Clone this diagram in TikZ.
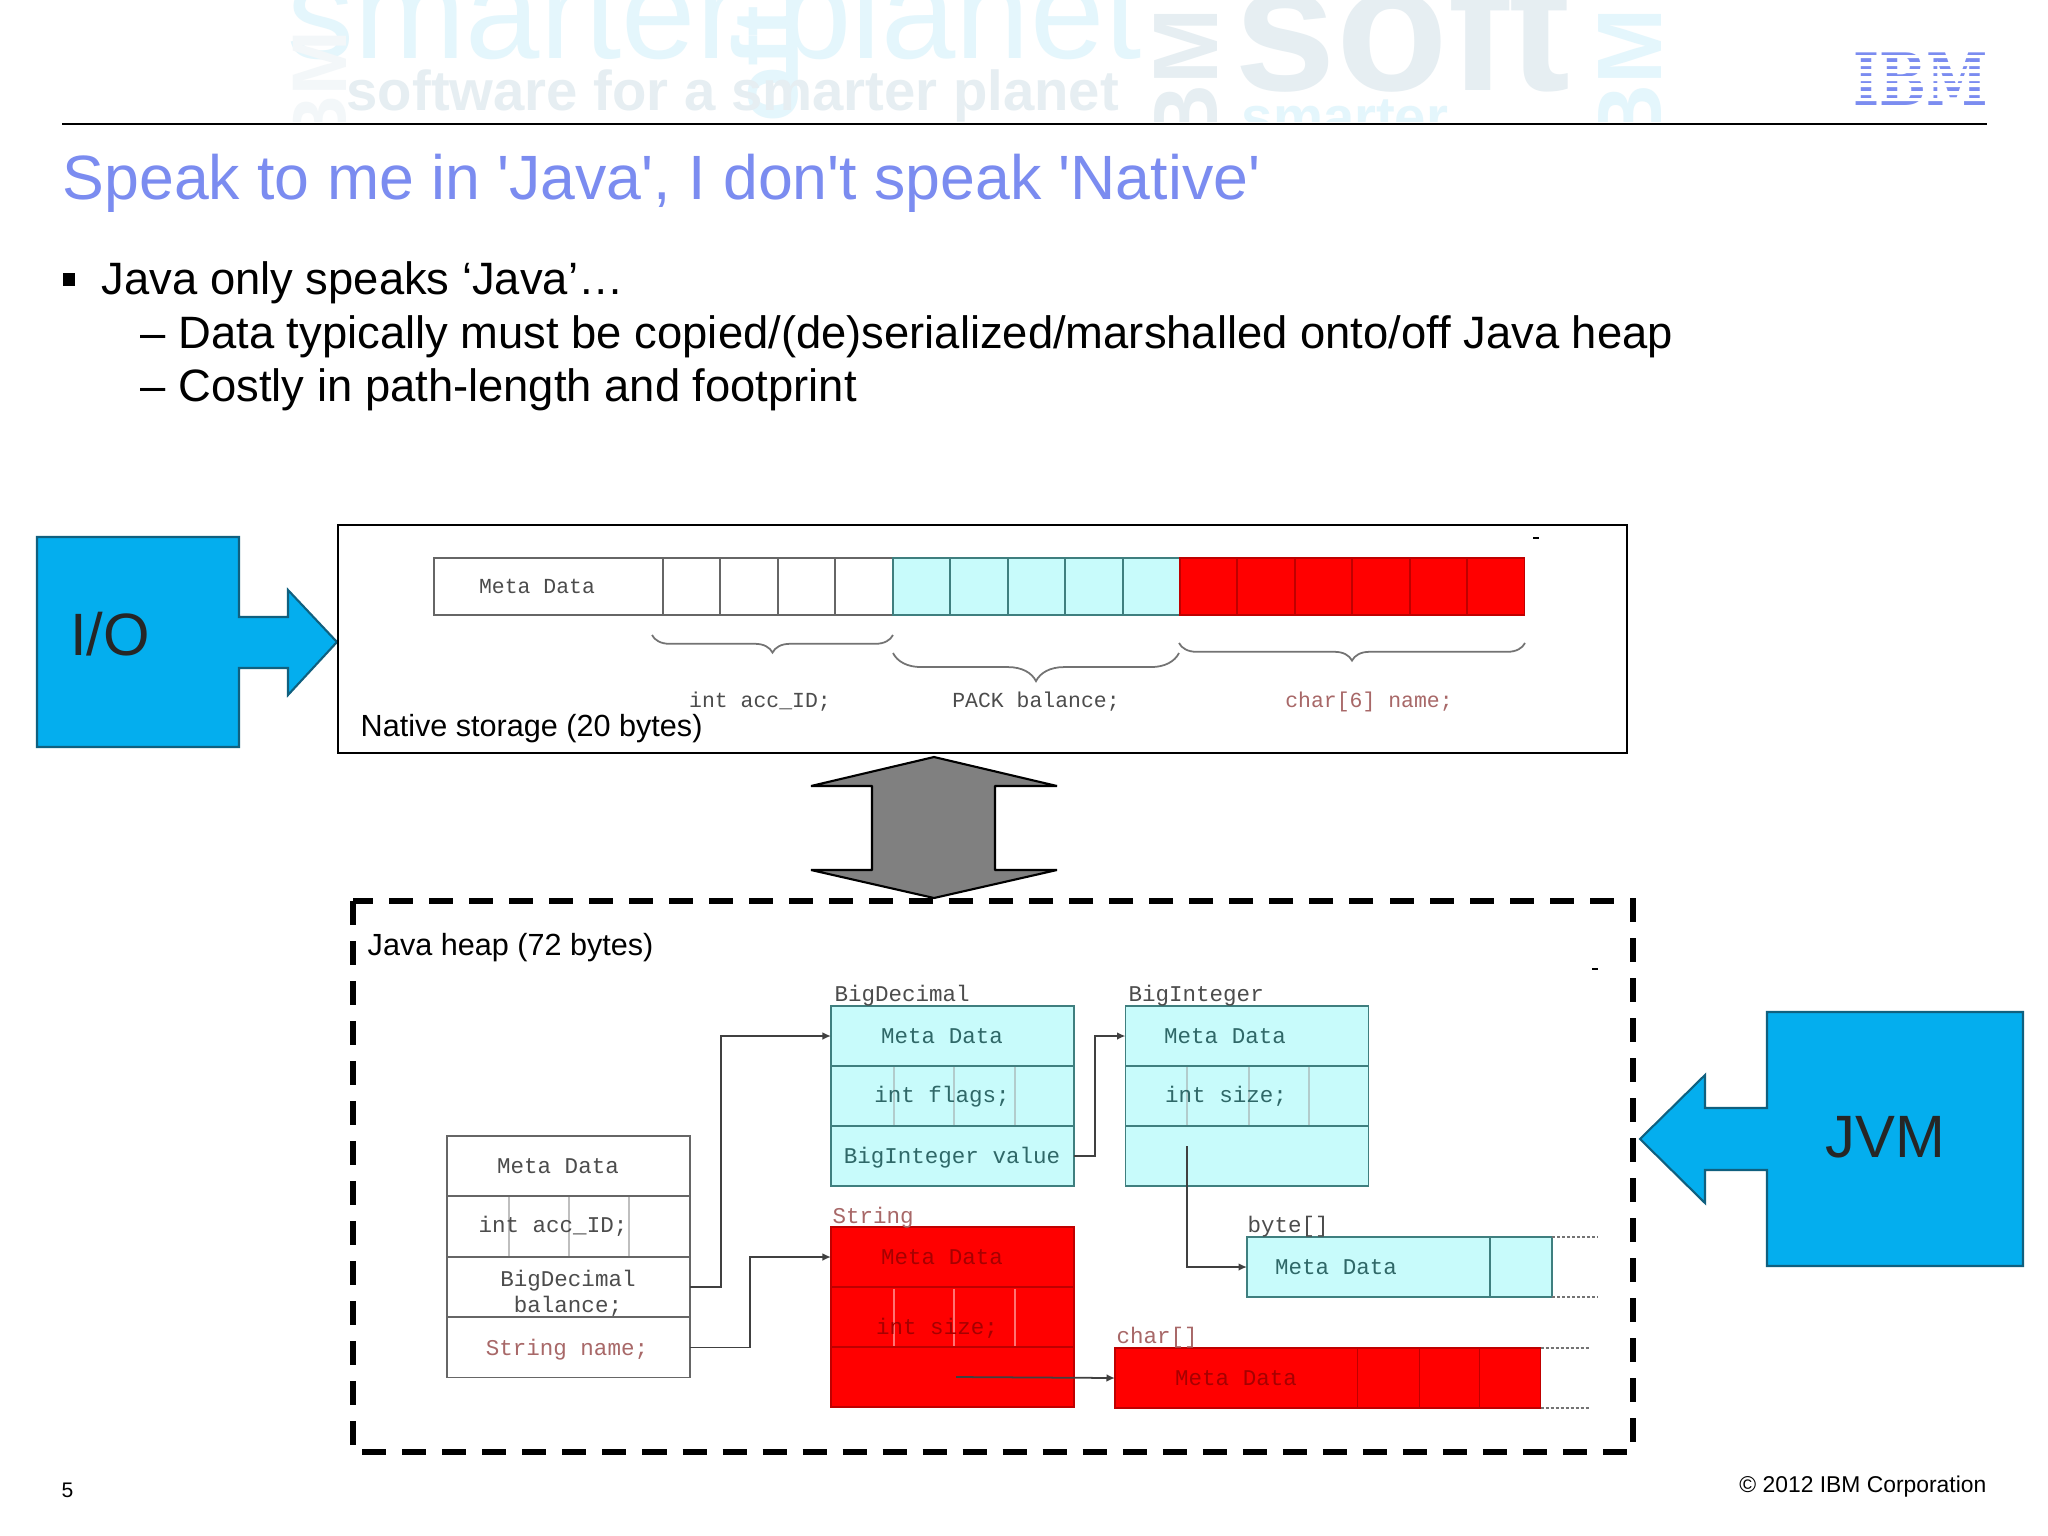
\documentclass[tikz,border=0pt]{standalone}
\usepackage{fontspec}
\setmainfont{Liberation Sans}
\setmonofont{Liberation Mono}
\newfontfamily\titlefont{Liberation Sans}
\newfontfamily\logofont{DejaVu Serif}
\usetikzlibrary{decorations.pathreplacing,arrows.meta}
\definecolor{ibmblue}{HTML}{7B8CF0}
\definecolor{bigblue}{HTML}{04AEEE}
\definecolor{bigedge}{HTML}{10607F}
\definecolor{pale}{HTML}{C8FBFB}
\definecolor{paleedge}{HTML}{3F7F7F}
\definecolor{tealtext}{HTML}{2F6868}
\definecolor{redtext}{HTML}{A86868}
\definecolor{wmcyan}{HTML}{E4F6FC}
\definecolor{wmgray}{HTML}{E6EEF2}
\tikzset{
  headtext/.style={anchor=base west,inner sep=0pt,font=\titlefont\fontsize{17.8}{20}\selectfont,text=ibmblue},
  bodytext/.style={anchor=base west,inner sep=0pt,font=\fontsize{12.9}{15}\selectfont},
  storetext/.style={inner sep=0pt,font=\fontsize{8.7}{10}\selectfont},
  bigtext/.style={inner sep=0pt,font=\fontsize{17}{20}\selectfont,text=black!85},
  bigshape/.style={fill=bigblue,draw=bigedge,line width=0.6pt},
  mono/.style={inner sep=0pt,font=\ttfamily\fontsize{6.4}{7.4}\selectfont,text=black!70},
  nativemono/.style={mono,font=\ttfamily\fontsize{6.1}{7}\selectfont},
  monoteal/.style={mono,text=tealtext},
  monored/.style={mono,text=redtext},
  monodark/.style={mono,text=red!65!black},
  plainrow/.style={draw=black!60,fill=white,line width=0.5pt,minimum width=2.43cm,minimum height=0.6cm,inner sep=0pt,outer sep=0pt},
  palerow/.style={plainrow,draw=paleedge,fill=pale},
  redrow/.style={plainrow,draw=red!75!black,fill=red},
  cell/.style={plainrow,minimum width=0.57cm,minimum height=0.57cm},
  wire/.style={draw=black!75,line width=0.5pt,-{Latex[length=2.4pt,width=2.2pt]}},
  tail/.style={draw=black!55,line width=0.8pt,dash pattern=on 0.3mm off 0.2mm},
  bracket/.style={draw=black!55,line width=0.5pt,decorate}
}
\begin{document}
\begin{tikzpicture}[x=0.01cm,y=-0.01cm]
\useasboundingbox (0,0) rectangle (2048,1536);
\fill[white] (0,0) rectangle (2048,1536);

% Draw watermark behind the header
\begin{scope}
\clip (0,0) rectangle (2048,121);
\node[inner sep=0pt,anchor=base west,text=wmcyan,font=\fontsize{38}{40}\selectfont] (wmplanet) at (287,58) {smarter planet};
\node[inner sep=0pt,anchor=east,rotate=90,text=wmcyan,font=\bfseries\fontsize{26}{28}\selectfont] (wmsoft) at (765,5) {soft};
\node[inner sep=0pt,anchor=base west,text=wmgray,font=\bfseries\fontsize{16}{18}\selectfont] (wmsoftware) at (346,110) {software for a smarter planet};
\node[inner sep=0pt,anchor=base west,text=wmgray,font=\bfseries\fontsize{52}{54}\selectfont] (wmbigsoft) at (1234,90) {soft};
\node[inner sep=0pt,anchor=base west,text=wmcyan,font=\bfseries\fontsize{16}{18}\selectfont] (wmlower) at (1241,136) {smarter};
\node[inner sep=0pt,anchor=east,rotate=90,text=wmgray,font=\bfseries\fontsize{26}{28}\selectfont] (wmibm) at (1186,8) {IBM};
\node[inner sep=0pt,anchor=east,rotate=90,text=wmcyan,font=\bfseries\fontsize{26}{28}\selectfont] (wmibmright) at (1630,8) {IBM};
\node[inner sep=0pt,anchor=east,rotate=90,text=wmgray!50,font=\bfseries\fontsize{22}{24}\selectfont] (wmibmleft) at (320,30) {IBM};
\end{scope}

% Draw header
\draw[line width=0.8pt] (62,124) -- (1987,124);
\node[inner sep=0pt,text=ibmblue,yscale=1.3,font=\logofont\bfseries\fontsize{15.8}{17}\selectfont] (logo) at (1921,79) {IBM};
\fill[white] (1850,55) rectangle (1990,58) (1850,62) rectangle (1990,66) (1850,69) rectangle (1990,73) (1850,76) rectangle (1990,81) (1850,83) rectangle (1990,87) (1850,91) rectangle (1990,95) (1850,98) rectangle (1990,101);
\node[headtext] (title) at (62,199) {Speak to me in 'Java', I don't speak 'Native'};

% Draw bullet text
\fill (63,273) rectangle (75,286);
\node[bodytext] (lineone) at (101,294) {Java only speaks ‘Java’…};
\node[bodytext] (linetwo) at (140,348) {– Data typically must be copied/(de)serialized/marshalled onto/off Java heap};
\node[bodytext] (linethree) at (140,401) {– Costly in path-length and footprint};

% Draw I/O arrow
\draw[bigshape] (37,537) -- (239,537) -- (239,617) -- (288,617) -- (288,590) -- (337,642) -- (288,695) -- (288,668) -- (239,668) -- (239,747) -- (37,747) -- cycle;
\node[bigtext] (io) at (110,634) {I/O};

% Draw native storage box
\draw[line width=0.8pt] (338,525) rectangle (1627,753);
\node[storetext,anchor=west] (nativelabel) at (360,729) {Native storage (20 bytes)};
\fill (1533,537) rectangle (1539,539);

% Draw native fields
\node[plainrow,minimum width=2.29cm,minimum height=0.57cm] (nmeta) at (548.5,586.5) {};
\node[nativemono] (nmetatext) at (537,586) {Meta Data};
\node[cell] (nid1) at (691.5,586.5) {};
\node[cell] (nid2) at (749,586.5) {};
\node[cell] (nid3) at (806.5,586.5) {};
\node[cell] (nid4) at (864,586.5) {};
\node[cell,draw=paleedge,fill=pale] (nbal1) at (921.5,586.5) {};
\node[cell,draw=paleedge,fill=pale] (nbal2) at (979,586.5) {};
\node[cell,draw=paleedge,fill=pale] (nbal3) at (1036.5,586.5) {};
\node[cell,draw=paleedge,fill=pale] (nbal4) at (1094,586.5) {};
\node[cell,draw=paleedge,fill=pale] (nbal5) at (1151.5,586.5) {};
\node[cell,draw=red!75!black,fill=red] (nname1) at (1208.5,586.5) {};
\node[cell,draw=red!75!black,fill=red] (nname2) at (1266,586.5) {};
\node[cell,draw=red!75!black,fill=red] (nname3) at (1323.5,586.5) {};
\node[cell,draw=red!75!black,fill=red] (nname4) at (1381,586.5) {};
\node[cell,draw=red!75!black,fill=red] (nname5) at (1438.5,586.5) {};
\node[cell,draw=red!75!black,fill=red] (nname6) at (1496,586.5) {};

% Draw braces under the fields
\draw[bracket,decoration={brace,mirror,amplitude=5pt}] (652,635) -- (893,635);
\draw[bracket,decoration={brace,mirror,amplitude=8pt}] (893,653) -- (1179,653);
\draw[bracket,decoration={brace,mirror,amplitude=5pt}] (1179,643) -- (1525,643);
\node[nativemono] (nidtext) at (760,702) {int acc\_ID;};
\node[nativemono] (nbaltext) at (1036,702) {PACK balance;};
\node[nativemono,text=redtext] (nnametext) at (1369,702) {char[6] name;};

% Draw double arrow
\draw[fill=black!50,line width=0.6pt,line join=bevel] (934,757) -- (1057,786) -- (995,786) -- (995,870) -- (1057,870) -- (934,898) -- (811,870) -- (872,870) -- (872,786) -- (811,786) -- cycle;

% Draw Java heap box
\draw[line width=1.5pt,dash pattern=on 2.4mm off 1.6mm] (353,901) rectangle (1633,1452);
\node[storetext,anchor=west] (heaplabel) at (367,948) {Java heap (72 bytes)};
\fill (1592,968) rectangle (1598,970);

% Draw account object
\node[plainrow] (acctmeta) at (568.5,1166) {};
\node[plainrow] (acctid) at (568.5,1226.5) {};
\node[plainrow] (acctbal) at (568.5,1287) {};
\node[plainrow] (acctname) at (568.5,1347.5) {};
\draw[black!25,line width=0.3pt] (509,1197) -- (509,1256);
\draw[black!25,line width=0.3pt] (569,1197) -- (569,1256);
\draw[black!25,line width=0.3pt] (629,1197) -- (629,1256);
\node[mono] (acctmetatext) at (558,1166) {Meta Data};
\node[mono] (acctidtext) at (553,1226) {int acc\_ID;};
\node[mono,align=center] (acctbaltext) at (568,1293) {BigDecimal\\balance;};
\node[monored] (acctnametext) at (567,1350) {String name;};

% Draw BigDecimal object
\node[palerow] (decmeta) at (952.5,1036) {};
\node[palerow] (decflags) at (952.5,1096) {};
\node[palerow] (decvalue) at (952.5,1156) {};
\draw[paleedge!40,line width=0.3pt] (894,1067) -- (894,1125);
\draw[paleedge!40,line width=0.3pt] (954,1067) -- (954,1125);
\draw[paleedge!40,line width=0.3pt] (1015,1067) -- (1015,1125);
\node[mono,anchor=base west] (declabel) at (834,1001) {BigDecimal};
\node[monoteal] (decmetatext) at (942,1036) {Meta Data};
\node[monoteal] (decflagstext) at (942,1097) {int flags;};
\node[monoteal] (decvaluetext) at (952,1158) {BigInteger value};

% Draw BigInteger object
\node[palerow] (intmeta) at (1247,1036) {};
\node[palerow] (intsize) at (1247,1096) {};
\node[palerow] (intmag) at (1247,1156) {};
\draw[paleedge!40,line width=0.3pt] (1187,1067) -- (1187,1125);
\draw[paleedge!40,line width=0.3pt] (1249,1067) -- (1249,1125);
\draw[paleedge!40,line width=0.3pt] (1309,1067) -- (1309,1125);
\node[mono,anchor=base west] (intlabel) at (1128,1001) {BigInteger};
\node[monoteal] (intmetatext) at (1225,1036) {Meta Data};
\node[monoteal] (intsizetext) at (1226,1096) {int size;};

% Draw String object
\node[redrow] (strmeta) at (952.5,1257) {};
\node[redrow] (strsize) at (952.5,1317) {};
\node[redrow] (strchars) at (952.5,1377) {};
\draw[red!55!white,line width=0.3pt] (894,1289) -- (894,1346);
\draw[red!55!white,line width=0.3pt] (954,1289) -- (954,1346);
\draw[red!55!white,line width=0.3pt] (1015,1289) -- (1015,1346);
\node[monored,anchor=base west] (strlabel) at (832,1223) {String};
\node[monodark] (strmetatext) at (942,1257) {Meta Data};
\node[monodark] (strsizetext) at (937,1328) {int size;};

% Draw byte array
\node[palerow] (bytemeta) at (1368.5,1267) {};
\node[palerow,minimum width=0.62cm] (bytecell) at (1521,1267) {};
\node[mono,anchor=base west] (bytelabel) at (1247,1232) {byte[]};
\node[monoteal] (bytemetatext) at (1336,1267) {Meta Data};
\draw[tail] (bytecell.north east) -- ++(46,0) coordinate (bytetopend);
\draw[tail] (bytecell.south east) -- ++(46,0) coordinate (bytebotend);

% Draw char array
\node[redrow] (charmeta) at (1236.5,1378) {};
\node[redrow,minimum width=0.62cm] (charcell1) at (1388.5,1378) {};
\node[redrow,minimum width=0.6cm] (charcell2) at (1449.5,1378) {};
\node[redrow,minimum width=0.61cm] (charcell3) at (1510,1378) {};
\node[monored,anchor=base west] (charlabel) at (1116,1343) {char[]};
\node[monodark] (charmetatext) at (1236,1378) {Meta Data};
\draw[tail] (charcell3.north east) -- ++(50,0) coordinate (chartopend);
\draw[tail] (charcell3.south east) -- ++(50,0) coordinate (charbotend);

% Draw references
\coordinate (magstart) at (1187,1146);
\coordinate (charsstart) at (956,1377);
\draw[wire] (acctbal.east) -- ++(31,0) |- (decmeta.west);
\draw[wire] (acctname.east) -- ++(60,0) |- (strmeta.west);
\draw[wire] (decvalue.east) -- ++(21,0) |- (intmeta.west);
\draw[wire] (magstart) |- (bytemeta.west);
\draw[wire] (charsstart) -- (charmeta.west);

% Draw JVM arrow
\draw[bigshape] (2023,1012) -- (1767,1012) -- (1767,1108) -- (1705,1108) -- (1705,1075) -- (1640,1139) -- (1705,1203) -- (1705,1170) -- (1767,1170) -- (1767,1266) -- (2023,1266) -- cycle;
\node[bigtext] (jvm) at (1885,1137) {JVM};

% Draw footer
\node[inner sep=0pt,anchor=west,font=\fontsize{6}{7}\selectfont] (pagenum) at (61,1490) {5};
\node[inner sep=0pt,anchor=east,font=\fontsize{6.5}{8}\selectfont] (copyright) at (1987,1487) {© 2012 IBM Corporation};
\end{tikzpicture}
\end{document}
